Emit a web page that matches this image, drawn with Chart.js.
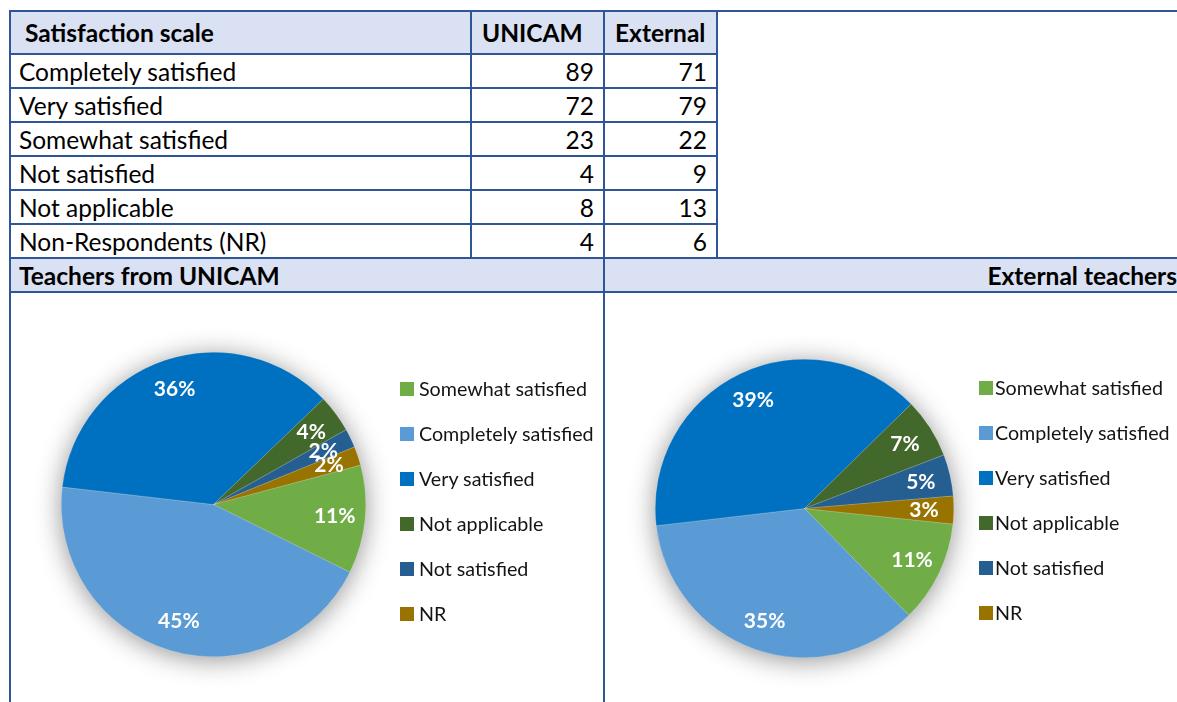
<!DOCTYPE html>
<html>
<head>
<meta charset="utf-8">
<title>Satisfaction scale</title>
<script src="https://cdn.jsdelivr.net/npm/chart.js@4/dist/chart.umd.min.js"></script>
<style>
  html, body { margin: 0; padding: 0; width: 1177px; height: 702px; overflow: hidden; background: #fff; }
  body { position: relative; font-family: Lato, 'Noto Sans', sans-serif; color: #000; }
  .cell { position: absolute; box-sizing: border-box; border: 2px solid #2F5597; font-size: 24.5px;
          white-space: nowrap; display: flex; align-items: center; }
  .head { background: #D9E1F2; font-weight: bold; }
  .num { justify-content: flex-end; }
  .pie { position: absolute; filter: drop-shadow(0 3px 13px rgba(0,0,0,0.42)); }
  .lg { position: absolute; font-size: 19.7px; color: #141414; white-space: nowrap; line-height: 22px; }
  .lgbox { position: absolute; width: 14px; height: 14px; }
</style>
</head>
<body>
<div id="UNICAMPie" class="pie"><canvas id="unicamChart"></canvas></div>
<div id="ExternalPie" class="pie"><canvas id="externalChart"></canvas></div>
<script>
'use strict'

// table data
const categories = ['Completely satisfied', 'Very satisfied', 'Somewhat satisfied',
  'Not satisfied', 'Not applicable', 'Non-Respondents (NR)'];
const unicamCounts = [89, 72, 23, 4, 8, 4];
const externalCounts = [71, 79, 22, 9, 13, 6];

// pie data (order of the slices / legend)
const pieLabels = ['Somewhat satisfied', 'Completely satisfied', 'Very satisfied',
  'Not applicable', 'Not satisfied', 'NR'];
const unicamPie = [23, 89, 72, 8, 4, 4];
const externalPie = [22, 71, 79, 13, 9, 6];
// percentages as printed on the slices
const unicamPct = ['11%', '45%', '36%', '4%', '2%', '2%'];
const externalPct = ['11%', '35%', '39%', '7%', '5%', '3%'];
const pieColors = ['#70AD47', '#5B9BD5', '#0070C0', '#43682B', '#255E91', '#997300'];

// grid lines of the table
const rowLines = [11, 54, 88, 122, 156, 190, 224, 258, 292];
const colLines = [10, 471, 604, 717];

function cell(x0, x1, y0, y1, text, cls, padL, padR) {
  const d = document.createElement('div');
  d.className = 'cell ' + (cls || '');
  d.style.left = (x0 - 1) + 'px';
  d.style.top = (y0 - 1) + 'px';
  d.style.width = (x1 - x0 + 2) + 'px';
  d.style.height = (y1 - y0 + 2) + 'px';
  d.style.paddingLeft = (padL || 0) + 'px';
  d.style.paddingRight = (padR || 0) + 'px';
  d.textContent = text || '';
  document.body.insertBefore(d, document.body.firstChild);
  return d;
}

// header row
cell(colLines[0], colLines[1], rowLines[0], rowLines[1], 'Satisfaction scale', 'head', 14);
cell(colLines[1], colLines[2], rowLines[0], rowLines[1], 'UNICAM', 'head', 10);
cell(colLines[2], colLines[3], rowLines[0], rowLines[1], 'External', 'head', 10);
let topLine = cell(colLines[3], 1300, rowLines[0], rowLines[1], '');
topLine.style.borderWidth = '2px 0 0 0';

// data rows
for (let i = 0; i < categories.length; i++) {
  const y0 = rowLines[i + 1], y1 = rowLines[i + 2];
  cell(colLines[0], colLines[1], y0, y1, categories[i], '', 8);
  cell(colLines[1], colLines[2], y0, y1, unicamCounts[i], 'num', 0, 9);
  cell(colLines[2], colLines[3], y0, y1, externalCounts[i], 'num', 0, 9);
}

// section titles
cell(colLines[0], colLines[2], rowLines[7], rowLines[8], 'Teachers from UNICAM', 'head', 8);
cell(colLines[2], 1186, rowLines[7], rowLines[8], 'External teachers', 'head num', 0, 8);
// chart cells
cell(colLines[0], colLines[2], rowLines[8], 800, '');
cell(colLines[2], 1300, rowLines[8], 800, '');

// percentage labels on the slices
const pctLabelsPlugin = {
  id: 'pctLabels',
  afterDatasetsDraw(chart) {
    const ctx = chart.ctx;
    const ds = chart.data.datasets[0];
    ctx.save();
    ctx.font = 'bold 21px Lato';
    ctx.fillStyle = '#fff';
    ctx.textAlign = 'center';
    ctx.textBaseline = 'middle';
    chart.getDatasetMeta(0).data.forEach((arc, i) => {
      const p = arc.getProps(['x', 'y', 'startAngle', 'endAngle', 'outerRadius'], true);
      const mid = (p.startAngle + p.endAngle) / 2;
      const d = p.outerRadius * 0.8;
      ctx.fillText(ds.pctLabels[i], p.x + Math.cos(mid) * d, p.y + Math.sin(mid) * d);
    });
    ctx.restore();
  }
};

function makePie(boxId, canvasId, cx, cy, r, values, pct, rotation, legendX, textX, legendY) {
  const box = document.getElementById(boxId);
  const size = 2 * r + 1;
  box.style.left = (cx - size / 2) + 'px';
  box.style.top = (cy - size / 2) + 'px';
  box.style.width = size + 'px';
  box.style.height = size + 'px';

  const chart = new Chart(document.getElementById(canvasId), {
    type: 'pie',
    data: {
      labels: pieLabels,
      datasets: [{
        data: values,
        pctLabels: pct,
        backgroundColor: pieColors,
        borderColor: 'rgba(255,255,255,0.35)',
        borderWidth: 0.5,
        hoverOffset: 0
      }]
    },
    options: {
      responsive: true,
      maintainAspectRatio: false,
      animation: false,
      events: [],
      rotation: rotation,
      layout: { padding: 0 },
      plugins: {
        legend: { display: false },
        tooltip: { enabled: false }
      }
    },
    plugins: [pctLabelsPlugin]
  });

  // legend built from the chart's own legend items
  const items = chart.options.plugins.legend.labels.generateLabels(chart);
  items.forEach((it, i) => {
    const cy2 = legendY + i * 45.1;
    const b = document.createElement('div');
    b.className = 'lgbox';
    b.style.left = legendX + 'px';
    b.style.top = (cy2 - 7) + 'px';
    b.style.background = it.fillStyle;
    document.body.appendChild(b);
    const t = document.createElement('div');
    t.className = 'lg';
    t.style.left = textX + 'px';
    t.style.top = (cy2 - 11) + 'px';
    t.textContent = it.text;
    document.body.appendChild(t);
  });
  return chart;
}

makePie('UNICAMPie', 'unicamChart', 213, 504, 152, unicamPie, unicamPct, 75, 400, 419, 388.5);
makePie('ExternalPie', 'externalChart', 804, 508, 149, externalPie, externalPct, 96, 979, 995, 387.5);
</script>
</body>
</html>
